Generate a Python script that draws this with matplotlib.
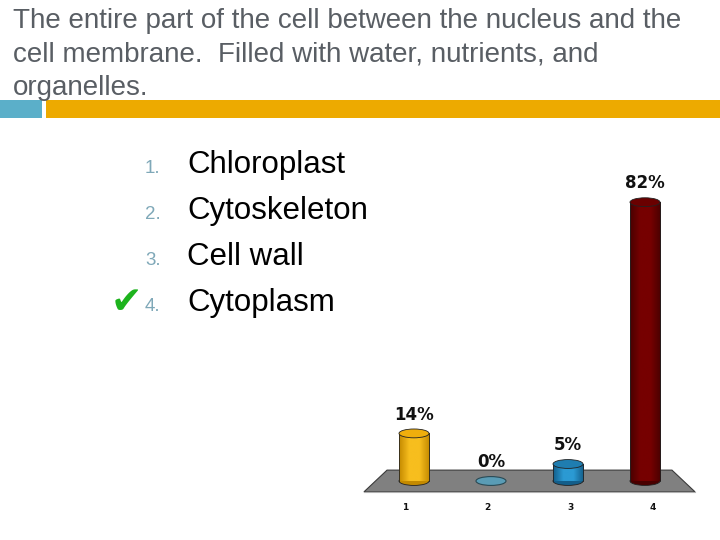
import matplotlib
matplotlib.use("Agg")
import matplotlib.pyplot as plt
import numpy as np
from matplotlib.patches import Rectangle, Ellipse, Polygon
from matplotlib.colors import LinearSegmentedColormap

# ---- data ----
title_lines = ["The entire part of the cell between the nucleus and the",
               "cell membrane.  Filled with water, nutrients, and",
               "organelles."]
choices = ["Chloroplast", "Cytoskeleton", "Cell wall", "Cytoplasm"]
categories = [1, 2, 3, 4]
values = [14, 0, 5, 82]
value_labels = ["14%", "0%", "5%", "82%"]
correct_index = 3
bar_light = ["#F7BE1E", "#5FA6C2", "#2B9AD3", "#760000"]
bar_dark = ["#C48A00", "#3D7F99", "#135E8A", "#4A0000"]
top_colors = ["#EFAE0C", "#5A9CB5", "#1F7DB0", "#6A0000"]

W, H = 720, 540
fig = plt.figure(figsize=(7.2, 5.4), dpi=100)
fig.patch.set_facecolor("white")

def fx(px):
    return px / W

def fy(py):
    return 1 - py / H

# ---- title ----
title_color = "#595E64"
for i, line in enumerate(title_lines):
    fig.text(fx(13), fy(28 + 33.5 * i), line, fontsize=20, color=title_color,
             family="Liberation Sans", va="baseline", ha="left")

# ---- header bars ----
fig.patches.append(Rectangle((fx(0), fy(118)), fx(42), 18 / H, transform=fig.transFigure,
                             facecolor="#5BAFC9", edgecolor="none"))
fig.patches.append(Rectangle((fx(46), fy(118)), fx(720 - 46), 18 / H, transform=fig.transFigure,
                             facecolor="#EDAA00", edgecolor="none"))

# ---- choice list ----
for i, c in enumerate(choices):
    yb = 173 + 46 * i
    fig.text(fx(145), fy(yb), f"{i + 1}.", fontsize=13.5, color="#7FA8B8",
             family="Liberation Sans", va="baseline", ha="left")
    fig.text(fx(187), fy(yb), c, fontsize=22.5, color="black",
             family="Liberation Sans", va="baseline", ha="left")
fig.text(fx(111), fy(303), "\u2714", fontsize=27, color="#1DB31D",
         family="DejaVu Sans", va="center", ha="left")

# ---- chart ----
px_per_cat = 77.0
px_per_pct = 3.4
x0_px, base_px = 414.0, 481.0
xlim = (0.3, 4.7)
ylim = (-5, 92)
left_px = x0_px - (1 - xlim[0]) * px_per_cat
width_px = (xlim[1] - xlim[0]) * px_per_cat
bottom_px = base_px - ylim[0] * px_per_pct
height_px = (ylim[1] - ylim[0]) * px_per_pct
ax = fig.add_axes([fx(left_px), fy(bottom_px), width_px / W, height_px / H])
ax.set_xlim(*xlim)
ax.set_ylim(*ylim)
ax.axis("off")

# floor
floor = Polygon([(0.35, -3.2), (4.65, -3.2), (4.35, 3.2), (0.65, 3.2)],
                closed=True, facecolor="#808080", edgecolor="#3a3a3a", linewidth=0.8, zorder=1)
ax.add_patch(floor)
ax.plot([0.35, 4.65], [-3.2, -3.2], color="#b0b0b0", linewidth=0.8, zorder=1)

bw = 0.39
eh = 2.6
bars = ax.bar(categories, values, width=bw, color="none", edgecolor="none", zorder=3)
for i, (x, v, rect) in enumerate(zip(categories, values, bars.patches)):
    cmap = LinearSegmentedColormap.from_list(
        f"c{i}", [bar_dark[i], bar_light[i], bar_light[i], bar_dark[i]])
    if v > 0:
        ax.add_patch(Ellipse((x, 0), bw, eh, facecolor=bar_dark[i], edgecolor="#222222",
                             linewidth=0.6, zorder=2))
        grad = np.linspace(0, 1, 64).reshape(1, -1)
        im = ax.imshow(grad, extent=[x - bw / 2, x + bw / 2, 0, v], aspect="auto",
                       cmap=cmap, zorder=3, interpolation="bilinear")
        im.set_clip_path(rect)
        ax.plot([x - bw / 2, x - bw / 2], [0, v], color="#222222", linewidth=0.6, zorder=4)
        ax.plot([x + bw / 2, x + bw / 2], [0, v], color="#222222", linewidth=0.6, zorder=4)
        ax.add_patch(Ellipse((x, v), bw, eh, facecolor=top_colors[i], edgecolor="#222222",
                             linewidth=0.6, zorder=5))
    else:
        ax.add_patch(Ellipse((x, v), bw, eh, facecolor=top_colors[i], edgecolor="#2a4a55",
                             linewidth=0.8, zorder=5))
    ax.text(x, v + 5.5, value_labels[i], ha="center", va="center", fontsize=12,
            fontweight="bold", color="#111111", family="DejaVu Sans", zorder=6)
    ax.text(x * 1.072 - 0.189, -7.9, str(categories[i]), ha="center", va="center",
            fontsize=6.5, fontweight="bold", color="#111111", family="DejaVu Sans")

fig.savefig("out.png", dpi=100)
